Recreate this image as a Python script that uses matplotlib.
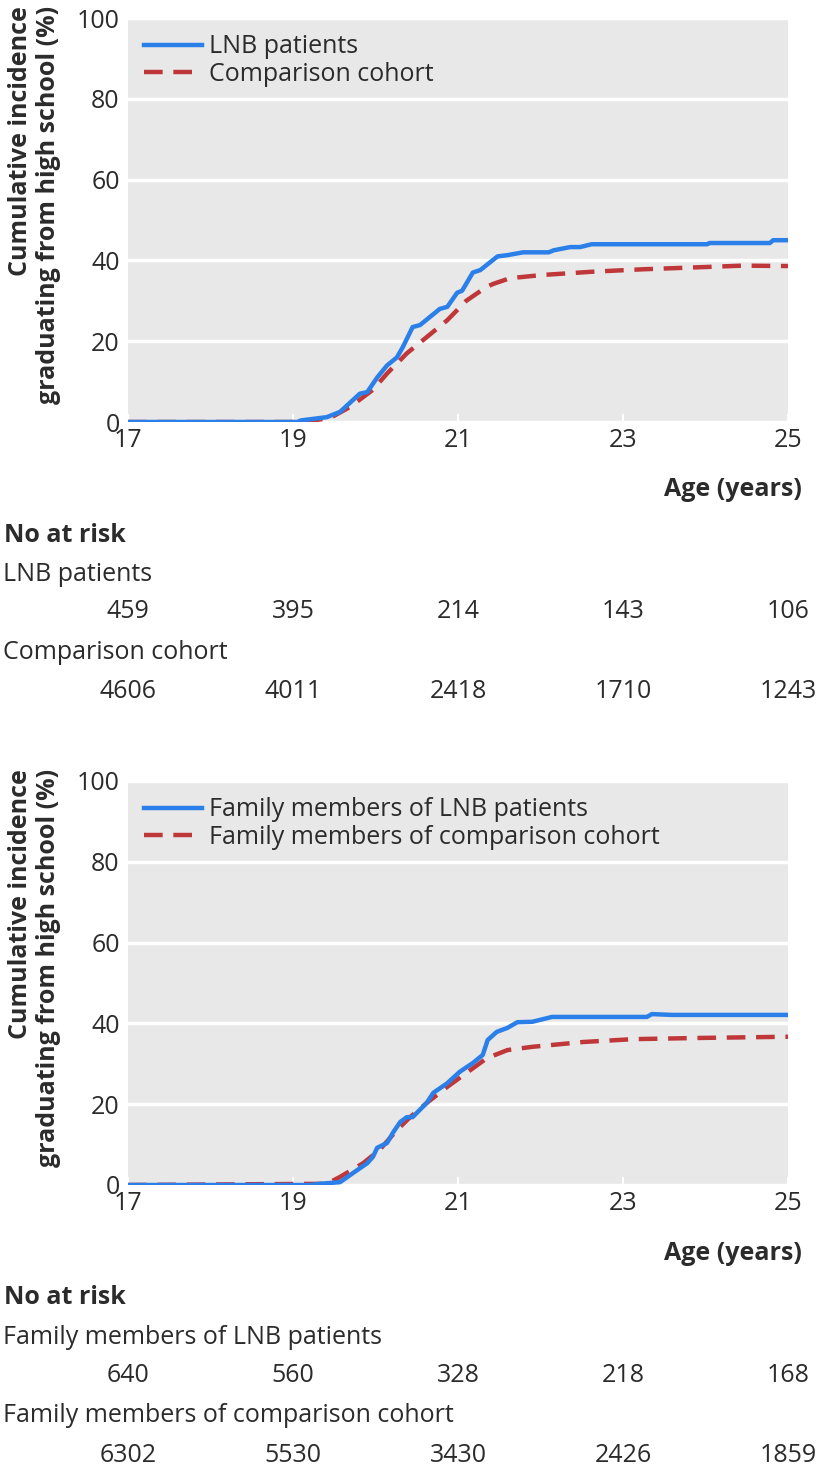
import matplotlib
matplotlib.use("Agg")
import matplotlib.pyplot as plt
import matplotlib.transforms as mtransforms

plt.rcParams['font.family'] = ['Open Sans', 'DejaVu Sans']

# ---- data ----
top_lnb_age = [17, 19.05, 19.1, 19.41, 19.57, 19.81, 19.9, 20.02, 20.14, 20.26, 20.33,
               20.45, 20.54, 20.78, 20.87, 20.99, 21.05, 21.18, 21.27, 21.48, 21.6,
               21.79, 22.1, 22.16, 22.36, 22.48, 22.62, 24.02, 24.05, 24.78, 24.82, 25]
top_lnb = [0, 0, 0.4, 1.2, 2.5, 7, 7.4, 11, 14, 16, 18.5, 23.5, 24, 28, 28.5, 32,
           32.5, 37, 37.6, 41, 41.3, 42, 42, 42.5, 43.3, 43.3, 44, 44, 44.3, 44.3, 45, 45]
top_cmp_age = [17, 19.12, 19.45, 19.69, 19.97, 20.14, 20.38, 20.62, 20.87, 21.1, 21.35,
               21.43, 21.63, 22.03, 22.63, 23.24, 24.05, 24.45, 25]
top_cmp = [0, 0, 1, 3.7, 8, 12, 17, 21, 25.2, 30, 33.5, 34.2, 35.6, 36.4, 37.2, 37.8,
           38.4, 38.7, 38.6]

bot_lnb_age = [17, 19.2, 19.33, 19.57, 19.73, 19.9, 19.97, 20.02, 20.14, 20.21, 20.3,
               20.38, 20.45, 20.62, 20.7, 20.87, 21.02, 21.18, 21.3, 21.36, 21.47, 21.6,
               21.72, 21.9, 22.14, 23.29, 23.35, 23.6, 23.7, 25]
bot_lnb = [0, 0, 0.3, 0.7, 3, 5.4, 7, 9.2, 10.4, 12.9, 15.6, 16.8, 16.8, 20.3, 22.8,
           25.2, 28, 30.2, 32.2, 35.9, 37.9, 38.9, 40.3, 40.4, 41.6, 41.6, 42.3, 42.1,
           42.1, 42.1]
bot_cmp_age = [17, 19.41, 19.57, 19.85, 20.05, 20.26, 20.42, 20.62, 20.87, 21.1, 21.35,
               21.6, 21.9, 22.52, 23.12, 23.93, 25]
bot_cmp = [0, 0.3, 2, 5.4, 8.7, 13.6, 16.8, 20.3, 24.3, 27.7, 31.4, 33.4, 34.2, 35.4,
           36.1, 36.4, 36.7]

risk_ages = [17, 19, 21, 23, 25]
top_labels = ['LNB patients', 'Comparison cohort']
top_risk = [[459, 395, 214, 143, 106], [4606, 4011, 2418, 1710, 1243]]
bot_labels = ['Family members of LNB patients', 'Family members of comparison cohort']
bot_risk = [[640, 560, 328, 218, 168], [6302, 5530, 3430, 2426, 1859]]

x_ticks = [17, 19, 21, 23, 25]
y_ticks = [0, 20, 40, 60, 80, 100]

BLUE = '#2a7fe8'
RED = '#c0373a'
BG = '#e8e8e8'
TXT = '#2b2b2b'

W, H = 820, 1476
fig = plt.figure(figsize=(W / 100, H / 100), dpi=100)


def fx(px):
    return px / W


def fy(px):
    return 1 - px / H


def panel(top_px, blue_x, blue_y, red_x, red_y, labels, risk):
    base_px = top_px + 404
    ax = fig.add_axes([fx(128), fy(base_px), fx(660), 404 / H])
    ax.set_facecolor(BG)
    for s in ax.spines.values():
        s.set_visible(False)
    ax.plot(red_x, red_y, color=RED, lw=3.2, ls=(0, (4.2, 2.4)), label=labels[1], zorder=3)
    ax.plot(blue_x, blue_y, color=BLUE, lw=3.2, label=labels[0], zorder=4)
    ax.set_xlim(17, 25)
    ax.set_ylim(0, 100)
    ax.set_xticks(x_ticks)
    ax.set_yticks(y_ticks)
    ax.tick_params(axis='x', direction='in', length=6, width=1.5, color='white',
                   labelsize=18, labelcolor=TXT, pad=4)
    ax.tick_params(axis='y', length=0, labelsize=18, labelcolor=TXT, pad=6)
    ax.grid(axis='y', color='white', lw=2.5)
    ax.set_axisbelow(True)
    h, l = ax.get_legend_handles_labels()
    ax.legend(h[::-1], l[::-1], loc='upper left', frameon=False, fontsize=18,
              handlelength=2.3, handletextpad=0.3, labelspacing=0.1,
              borderaxespad=0.25, labelcolor=TXT)

    fig.text(fx(8), fy(top_px - 12),
             'Cumulative incidence\ngraduating from high school (%)',
             rotation=90, ha='left', va='top', multialignment='right',
             fontsize=18, fontweight='bold', color=TXT, linespacing=1.15)
    fig.text(fx(802), fy(base_px + 68), 'Age (years)', ha='right', va='center',
             fontsize=18, fontweight='bold', color=TXT)
    fig.text(fx(4), fy(base_px + 113), 'No at risk', ha='left', va='center',
             fontsize=18, fontweight='bold', color=TXT)

    trans = mtransforms.blended_transform_factory(ax.transData, fig.transFigure)
    offs = [(153, 190), (230, 270)]
    for lab, row, (oy_lab, oy_num) in zip(labels, risk, offs):
        fig.text(fx(3), fy(base_px + oy_lab), lab, ha='left', va='center',
                 fontsize=18, color=TXT)
        for a, n in zip(risk_ages, row):
            ax.text(a, fy(base_px + oy_num), str(n), transform=trans, ha='center',
                    va='center', fontsize=18, color=TXT, clip_on=False)
    return ax


panel(18, top_lnb_age, top_lnb, top_cmp_age, top_cmp, top_labels, top_risk)
panel(781, bot_lnb_age, bot_lnb, bot_cmp_age, bot_cmp, bot_labels, bot_risk)

fig.savefig('out.png', dpi=100)
